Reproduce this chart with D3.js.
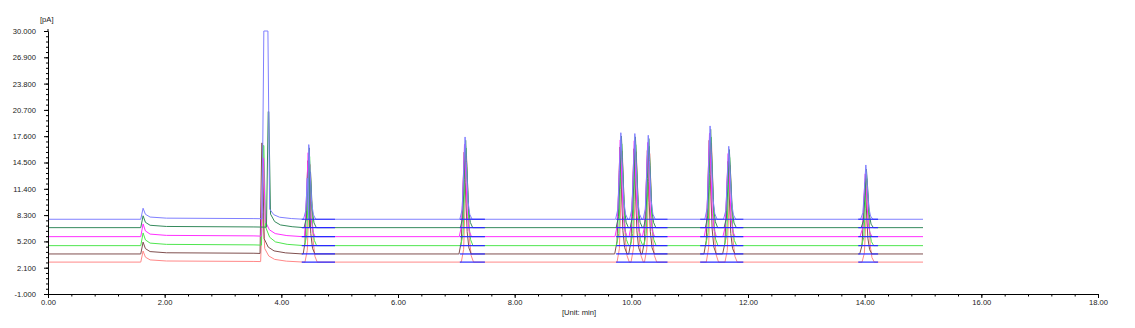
<!DOCTYPE html>
<html>
<head>
<meta charset="utf-8">
<script src="https://cdn.jsdelivr.net/npm/d3@7"></script>
<style>
	body { margin: 0; background: #fff; }
	text { font-family: 'Liberation Sans', Arial, sans-serif; font-size: 7.6px; fill: #222; }
</style>
</head>
<body>
<svg width="1135" height="328"></svg>
<script>
// traces, top to bottom
let traceColors = ['#8080ff', '#358a5c', '#ff30ff', '#4fe64f', '#80504f', '#ff8888'];
let baselines = [7.81, 6.82, 5.76, 4.70, 3.72, 2.76];
let timeShift = [0, 0.01, -0.01, 0.015, -0.015, 0.025];

// small early peak
let smallPeakTime = 1.63;
let smallPeakHeights = [1.3, 1.4, 1.5, 1.5, 1.4, 1.3];

// solvent peak (absolute pA, clipped at 30)
let solventRise = [3.70, 3.775, 3.685, 3.69, 3.665, 3.675];
let solventFall = [3.77, 3.785, 3.695, 3.70, 3.675, 3.685];
let solventTop = [30, 20.5, 15.0, 16.5, 16.8, 8.5];
let solventTail = [1.2, 1.6, 1.8, 2.2, 1.8, 1.6];

// main peaks, height above each baseline
let peakTimes = [4.47, 7.15, 9.82, 10.06, 10.29, 11.35, 11.67, 14.02];
let peakHeights = [
	[8.8, 9.7, 10.2, 10.1, 9.9, 11.0, 8.6, 6.4],
	[9.4, 10.3, 10.8, 10.7, 10.5, 11.6, 9.2, 6.9],
	[9.9, 10.9, 11.4, 11.3, 11.1, 12.2, 9.8, 7.4],
	[10.5, 11.5, 12.0, 11.9, 11.7, 12.8, 10.4, 7.9],
	[11.0, 12.0, 12.6, 12.4, 12.2, 13.4, 10.9, 8.4],
	[11.5, 12.5, 13.1, 13.0, 12.8, 14.0, 11.4, 8.9]
];

// integration baselines
let intStart = [4.35, 7.06, 9.74, 11.18, 13.89];
let intEnd = [4.92, 7.49, 10.62, 11.92, 14.23];

let runEnd = 15;

let yTicks = [-1, 2.1, 5.2, 8.3, 11.4, 14.5, 17.6, 20.7, 23.8, 26.9, 30];
let xTicks = [0, 2, 4, 6, 8, 10, 12, 14, 16, 18];

// peak outlines [time offset, fraction of height]
let peakShape = [[-0.09, 0], [-0.05, 0.12], [-0.025, 0.55], [0, 1], [0.02, 0.7], [0.05, 0.22], [0.08, 0.06], [0.12, 0]];
let smallPeakShape = [[-0.04, 0], [0, 1], [0.04, 0.45], [0.12, 0.2], [0.4, 0.1], [1.9, 0.06]];
let tailShape = [[0.03, 1], [0.1, 0.45], [0.2, 0.2], [0.4, 0.07], [0.7, 0]];

let svg = d3.select('svg');
let margin = { top: 31, right: 37, bottom: 34, left: 48 };
let width = +svg.attr('width') - margin.left - margin.right;
let height = +svg.attr('height') - margin.top - margin.bottom;

let chart = svg
	.append('g')
	.attr('transform', 'translate(' + margin.left + ', ' + margin.top + ')');

let x = d3
	.scaleLinear()
	.domain([0, 18])
	.range([0, width]);

let y = d3
	.scaleLinear()
	.domain([-1, 30])
	.range([height, 0]);

function tracePoints(i) {
	let b = baselines[i];
	let pts = [[0, b]];
	smallPeakShape.forEach(s => pts.push([smallPeakTime + s[0], b + s[1] * smallPeakHeights[i]]));
	pts.push([solventRise[i] - 0.03, b + 0.06]);
	pts.push([solventRise[i], solventTop[i]]);
	pts.push([solventFall[i], solventTop[i]]);
	tailShape.forEach(s => pts.push([solventFall[i] + s[0], b + s[1] * solventTail[i]]));
	peakTimes.forEach((t, k) => {
		peakShape.forEach(s => pts.push([t + timeShift[i] + s[0], b + s[1] * peakHeights[i][k]]));
	});
	pts.push([runEnd, b]);
	pts.sort((a, c) => a[0] - c[0]);
	return pts;
}

let line = d3.line()
	.x(d => x(d[0]))
	.y(d => y(d[1]));

// draw bottom trace first
d3.range(baselines.length - 1, -1, -1).forEach(i => {
	chart
		.append('path')
		.datum(tracePoints(i))
		.attr('fill', 'none')
		.attr('stroke', traceColors[i])
		.attr('stroke-width', 1)
		.attr('d', line);
});

baselines.forEach(b => {
	chart
		.selectAll(null)
		.data(intStart)
		.enter()
		.append('line')
		.attr('x1', d => x(d))
		.attr('x2', (d, k) => x(intEnd[k]))
		.attr('y1', y(b))
		.attr('y2', y(b))
		.attr('stroke', '#2a2aff')
		.attr('stroke-width', 1.2);
});

// axes
let yMinor = d3.range(-1, 30.01, 0.62);
let xMinor = d3.range(0, 18.01, 0.4);

chart
	.append('g')
	.call(d3.axisLeft(y).tickValues(yMinor).tickSize(2).tickSizeOuter(0).tickFormat(''));

chart
	.append('g')
	.call(d3.axisLeft(y).tickValues(yTicks).tickSize(4).tickSizeOuter(0).tickPadding(8).tickFormat(d => d.toFixed(3)));

chart
	.append('g')
	.attr('transform', 'translate(0, ' + height + ')')
	.call(d3.axisBottom(x).tickValues(xMinor).tickSize(2.5).tickSizeOuter(0).tickFormat(''));

chart
	.append('g')
	.attr('transform', 'translate(0, ' + height + ')')
	.call(d3.axisBottom(x).tickValues(xTicks).tickSize(4).tickSizeOuter(0).tickPadding(2).tickFormat(d => d.toFixed(2)));

chart.selectAll('.domain, .tick line').attr('stroke', '#000');
chart.selectAll('.tick text').attr('fill', '#222');
chart.selectAll('g').attr('font-family', null).attr('font-size', null);

chart
	.append('line')
	.attr('x1', 0)
	.attr('x2', 0)
	.attr('y1', -2)
	.attr('y2', 0)
	.attr('stroke', '#000');

svg
	.append('text')
	.attr('x', 40)
	.attr('y', 22)
	.attr('fill', '#222')
	.text('[pA]');

svg
	.append('text')
	.attr('x', 579)
	.attr('y', 315)
	.attr('text-anchor', 'middle')
	.attr('fill', '#222')
	.text('[Unit: min]');
</script>
</body>
</html>
